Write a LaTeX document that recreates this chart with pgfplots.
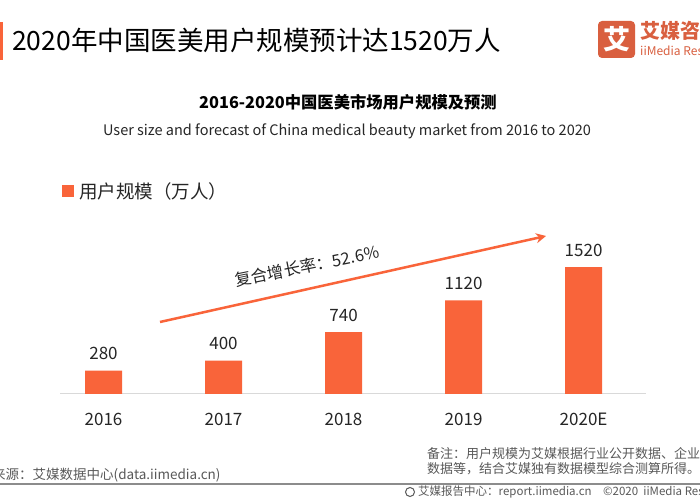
\documentclass[border=0pt]{standalone}
\usepackage{pgfplots}
\pgfplotsset{compat=1.18}
\usetikzlibrary{arrows.meta}
\usepackage{fontspec}
\setmainfont{Noto Sans CJK SC}
\definecolor{barc}{HTML}{F9643A}
\definecolor{logoc}{HTML}{D95F3F}
\definecolor{txt}{HTML}{262626}
\definecolor{note}{HTML}{595959}
\newcommand{\fs}[1]{\fontsize{#1pt}{#1pt}\selectfont}
\begin{document}
\begin{tikzpicture}
\path[use as bounding box] (0,0) rectangle (700pt,500pt);
\fill[white] (0,0) rectangle (700pt,500pt);
% title
\fill[barc] (0,440pt) rectangle (3pt,478pt);
\node[anchor=west, inner sep=0, text=black] at (12pt,460pt) {\fs{26.5}2020年中国医美用户规模预计达1520万人};
% logo
\fill[logoc, rounded corners=4pt] (598pt,442pt) rectangle (635pt,479pt);
\node[text=white, inner sep=0] at (616.5pt,460.5pt) {\fs{27}\bfseries 艾};
\node[anchor=west, inner sep=0, text=logoc] at (640pt,469pt) {\fs{20}\bfseries 艾媒咨询};
\node[anchor=west, inner sep=0, text=logoc] at (640pt,449pt) {\fs{12}iiMedia Research};
% subtitles
\node[inner sep=0, text=black] at (348pt,398pt) {\fs{16.3}\bfseries 2016-2020中国医美市场用户规模及预测};
\node[inner sep=0, text=txt] at (347pt,369pt) {\fs{14.5}User size and forecast of China medical beauty market from 2016 to 2020};
% legend
\fill[barc] (62pt,303pt) rectangle (74pt,315pt);
\node[anchor=west, inner sep=0, text=txt] at (79pt,309pt) {\fs{18.5}用户规模（万人）};
% axis
\begin{axis}[
  at={(60pt,106pt)}, anchor=south west,
  scale only axis, width=586pt, height=167pt,
  xmin=-0.3625, xmax=4.52, ymin=0, ymax=2000,
  axis x line=bottom, axis y line=none,
  axis line style={draw=black!15, line width=1pt, -},
  xtick={0,1,2,3,4},
  xticklabels={2016,2017,2018,2019,2020E},
  major tick length=0pt,
  xticklabel style={font=\fs{17}, text=txt, yshift=-16pt},
  /pgf/number format/assume math mode=true,
  /pgf/number format/1000 sep={},
  clip=false,
]
\addplot[ybar, fill=barc, draw=none, bar width=37pt,
  nodes near coords, nodes near coords style={font=\fs{17}, text=txt, anchor=south, yshift=7pt}]
  coordinates {(0,280) (1,400) (2,740) (3,1120) (4,1520)};
\end{axis}
% arrow
\draw[barc, line width=2.5pt, -{Stealth[length=10pt,width=10pt]}] (160pt,178pt) -- (546pt,264pt);
\node[rotate=11.5, inner sep=0, text=txt] at (307pt,234pt) {\fs{16.5}复合增长率：52.6\%};
% notes
\node[anchor=west, inner sep=0, text=note] at (427pt,46pt) {\fs{13}备注：用户规模为艾媒根据行业公开数据、企业调研};
\node[anchor=west, inner sep=0, text=note] at (427pt,31pt) {\fs{13}数据等，结合艾媒独有数据模型综合测算所得。};
\node[anchor=west, inner sep=0, text=note] at (-8pt,25pt) {\fs{13.5}来源：艾媒数据中心(data.iimedia.cn)};
\draw[black!45, line width=1.5pt] (0,16pt) -- (700pt,16pt);
\draw[note, line width=1pt] (410pt,8pt) circle (4.5pt);
\node[anchor=west, inner sep=0, text=note] at (418pt,8pt) {\fs{11.5}艾媒报告中心：report.iimedia.cn\quad ©2020\ \ iiMedia Research};
\end{tikzpicture}
\end{document}
